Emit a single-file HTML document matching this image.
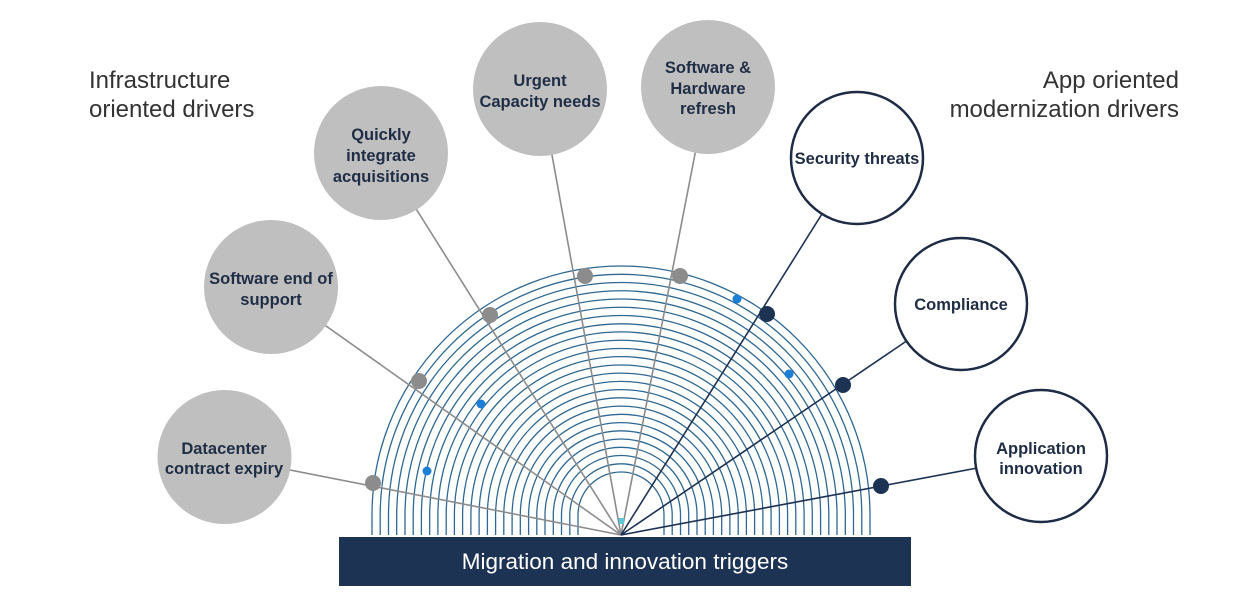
<!DOCTYPE html>
<html><head><meta charset="utf-8"><style>
html,body{margin:0;padding:0;background:#fff;}
svg{display:block}
</style></head><body>
<svg width="1250" height="605" viewBox="0 0 1250 605" xmlns="http://www.w3.org/2000/svg" font-family="Liberation Sans, sans-serif">
<rect width="1250" height="605" fill="#fff"/>
<g fill="none" stroke="#2e6893" stroke-width="1.3">
<path d="M578 535V515A43 43 0 0 1 664 515V535"/>
<path d="M569.8 535V515A51.2 51.2 0 0 1 672.2 515V535"/>
<path d="M561.5 535V515A59.5 59.5 0 0 1 680.5 515V535"/>
<path d="M553.3 535V515A67.7 67.7 0 0 1 688.7 515V535"/>
<path d="M545 535V515A76 76 0 0 1 697 515V535"/>
<path d="M536.8 535V515A84.2 84.2 0 0 1 705.2 515V535"/>
<path d="M528.6 535V515A92.4 92.4 0 0 1 713.4 515V535"/>
<path d="M520.3 535V515A100.7 100.7 0 0 1 721.7 515V535"/>
<path d="M512.1 535V515A108.9 108.9 0 0 1 729.9 515V535"/>
<path d="M503.8 535V515A117.2 117.2 0 0 1 738.2 515V535"/>
<path d="M495.6 535V515A125.4 125.4 0 0 1 746.4 515V535"/>
<path d="M487.4 535V515A133.6 133.6 0 0 1 754.6 515V535"/>
<path d="M479.1 535V515A141.9 141.9 0 0 1 762.9 515V535"/>
<path d="M470.9 535V515A150.1 150.1 0 0 1 771.1 515V535"/>
<path d="M462.6 535V515A158.4 158.4 0 0 1 779.4 515V535"/>
<path d="M454.4 535V515A166.6 166.6 0 0 1 787.6 515V535"/>
<path d="M446.2 535V515A174.8 174.8 0 0 1 795.8 515V535"/>
<path d="M437.9 535V515A183.1 183.1 0 0 1 804.1 515V535"/>
<path d="M429.7 535V515A191.3 191.3 0 0 1 812.3 515V535"/>
<path d="M421.4 535V515A199.6 199.6 0 0 1 820.6 515V535"/>
<path d="M413.2 535V515A207.8 207.8 0 0 1 828.8 515V535"/>
<path d="M405 535V515A216 216 0 0 1 837 515V535"/>
<path d="M396.7 535V515A224.3 224.3 0 0 1 845.3 515V535"/>
<path d="M388.5 535V515A232.5 232.5 0 0 1 853.5 515V535"/>
<path d="M380.2 535V515A240.8 240.8 0 0 1 861.8 515V535"/>
<path d="M372 535V515A249 249 0 0 1 870 515V535"/>
</g>
<g stroke="#8c8c8c" stroke-width="1.6">
<line x1="621" y1="535" x2="224" y2="457"/>
<line x1="621" y1="535" x2="271" y2="287"/>
<line x1="621" y1="535" x2="381" y2="153"/>
<line x1="621" y1="535" x2="540" y2="89"/>
<line x1="621" y1="535" x2="708" y2="87"/>
</g>
<g stroke="#1d3354" stroke-width="1.6">
<line x1="621" y1="535" x2="857" y2="158"/>
<line x1="621" y1="535" x2="961" y2="304"/>
<line x1="621" y1="535" x2="1041" y2="456"/>
</g>
<g fill="#8c8c8c">
<circle cx="373" cy="483" r="8"/><circle cx="419" cy="381" r="8"/><circle cx="490" cy="315" r="8"/><circle cx="585" cy="276" r="8"/><circle cx="680" cy="276" r="8"/>
</g>
<g fill="#1d3354">
<circle cx="767" cy="314" r="8"/><circle cx="843" cy="385" r="8"/><circle cx="881" cy="486" r="8"/>
</g>
<g fill="#1b7fd6">
<circle cx="737" cy="299" r="4.5"/><circle cx="789" cy="374" r="4.5"/><circle cx="481" cy="404" r="4.5"/><circle cx="427" cy="471" r="4.5"/>
</g>
<rect x="619" y="518" width="5" height="6" fill="#5cc8d8"/>
<g fill="#bfbfbf">
<circle cx="224.5" cy="457" r="67"/><circle cx="271" cy="287" r="67"/><circle cx="381" cy="153" r="67"/><circle cx="540" cy="89" r="67"/><circle cx="708" cy="87" r="67"/>
</g>
<g fill="#fff" stroke="#1d2b45" stroke-width="2.5">
<circle cx="857" cy="158" r="66"/><circle cx="961" cy="304" r="66"/><circle cx="1041" cy="456" r="66"/>
</g>
<g fill="#1f2d45" font-size="16.5" font-weight="bold" text-anchor="middle">
<text x="224" y="454">Datacenter</text><text x="224" y="474">contract expiry</text>
<text x="271" y="284">Software end of</text><text x="271" y="305">support</text>
<text x="381" y="140">Quickly</text><text x="381" y="161">integrate</text><text x="381" y="182">acquisitions</text>
<text x="540" y="86">Urgent</text><text x="540" y="107">Capacity needs</text>
<text x="708" y="73">Software &amp;</text><text x="708" y="94">Hardware</text><text x="708" y="114">refresh</text>
<text x="857" y="164">Security threats</text>
<text x="961" y="310">Compliance</text>
<text x="1041" y="454">Application</text><text x="1041" y="474">innovation</text>
</g>
<g fill="#333" font-size="24">
<text x="89" y="88">Infrastructure</text><text x="89" y="117">oriented drivers</text>
<text x="1179" y="88" text-anchor="end">App oriented</text><text x="1179" y="117" text-anchor="end">modernization drivers</text>
</g>
<rect x="339" y="537" width="572" height="49" fill="#1d3354"/>
<text x="625" y="569" fill="#fff" font-size="22.5" text-anchor="middle">Migration and innovation triggers</text>
</svg>
</body></html>
